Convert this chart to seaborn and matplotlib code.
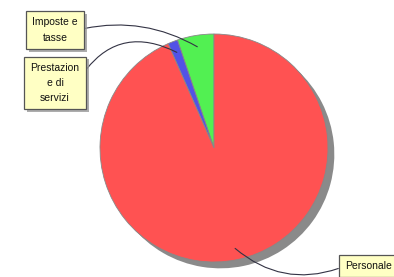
import numpy as np
import matplotlib
matplotlib.use("Agg")
import matplotlib.pyplot as plt
import matplotlib.patheffects as pe
import seaborn as sns

# slices, counter-clockwise from 12 o'clock
labels = ["Imposte e\ntasse", "Prestazion\ne di\nservizi", "Personale"]
values = [5.2, 1.4, 93.4]
colors = ["#52f052", "#5252e6", "#ff5252"]

# label box placement (figure pixels) and connector style
label_pos = [(55, 247), (55, 194), (345, 11)]
label_ha = ["center", "center", "left"]
relpos = [(1, 0.5), (1, 0.6), (0, 0.5)]
rads = [-0.2, -0.45, -0.3]

sns.set_theme(style="white")
plt.rcParams["font.family"] = ["Liberation Sans", "DejaVu Sans"]

fig = plt.figure(figsize=(3.94, 2.77), dpi=100)
ax = fig.add_axes([100 / 394, 15 / 277, 228 / 394, 228 / 277])

wedges, _ = ax.pie(values, colors=colors, startangle=90, counterclock=True,
                   wedgeprops=dict(edgecolor="#888888", linewidth=0.6),
                   shadow=dict(ox=0.04, oy=-0.04, facecolor="#8a8a8a",
                               edgecolor="none", alpha=1))
ax.set_xlim(-1, 1)
ax.set_ylim(-1, 1)
ax.axis("off")

for w, lab, pos, ha, rp, rad in zip(wedges, labels, label_pos, label_ha, relpos, rads):
    mid = np.deg2rad((w.theta1 + w.theta2) / 2)
    xy = (0.9 * np.cos(mid), 0.9 * np.sin(mid))
    t = ax.annotate(lab, xy=xy, xycoords="data", xytext=pos,
                    textcoords="figure pixels", ha=ha, va="center",
                    multialignment="center", fontsize=7.5, linespacing=1.65,
                    color="#111111", annotation_clip=False,
                    bbox=dict(boxstyle="square,pad=0.6", fc="#ffffc4",
                              ec="#555555", lw=0.9),
                    arrowprops=dict(arrowstyle="-", color="#333344", lw=0.8,
                                    relpos=rp, shrinkA=0, shrinkB=0,
                                    connectionstyle=f"arc3,rad={rad}"))
    t.get_bbox_patch().set_path_effects([
        pe.SimplePatchShadow(offset=(2, -2), shadow_rgbFace="#999999", alpha=0.8),
        pe.Normal()])

fig.savefig("out.png", dpi=100)
